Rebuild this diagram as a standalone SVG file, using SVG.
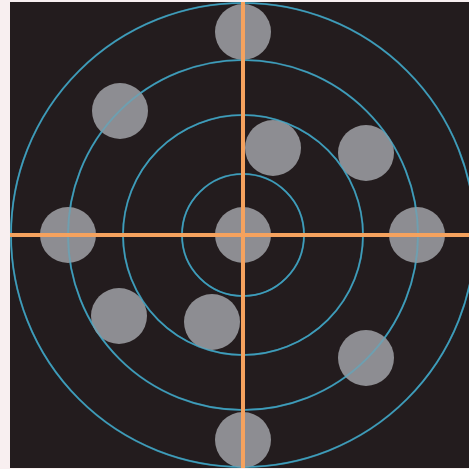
<svg xmlns="http://www.w3.org/2000/svg" width="469" height="469" viewBox="0 0 469 469">
<style>
.ring{fill:none;stroke:#3596b5;stroke-width:1.6}
.ring-over{fill:none;stroke:#4aa6c4;stroke-width:2;stroke-opacity:0.45}
.dot{fill:#999a9e;fill-opacity:0.9}
.axis{stroke:#f5a25e;stroke-width:4}
</style>
<rect x="0" y="0" width="469" height="469" fill="#f8eff0"/>
<rect x="10" y="2" width="459" height="466" fill="#231c1e"/>
<g id="rings">
<circle class="ring" cx="243" cy="235" r="232"/>
<circle class="ring" cx="243" cy="235" r="175"/>
<circle class="ring" cx="243" cy="235" r="120"/>
<circle class="ring" cx="243" cy="235" r="61"/>
</g>
<g id="node-center"><circle class="dot" cx="243" cy="235" r="28"/></g>
<g id="node-top"><circle class="dot" cx="243" cy="32" r="28"/></g>
<g id="node-bottom"><circle class="dot" cx="243" cy="440" r="28"/></g>
<g id="node-left"><circle class="dot" cx="68" cy="235" r="28"/></g>
<g id="node-right"><circle class="dot" cx="417" cy="235" r="28"/></g>
<g id="node-ul"><circle class="dot" cx="120" cy="111" r="28"/></g>
<g id="node-ll"><circle class="dot" cx="119" cy="316" r="28"/></g>
<g id="node-lr"><circle class="dot" cx="366" cy="358" r="28"/></g>
<g id="node-ur"><circle class="dot" cx="366" cy="153" r="28"/></g>
<g id="node-inner-ur"><circle class="dot" cx="273" cy="148" r="28"/></g>
<g id="node-inner-ll"><circle class="dot" cx="212" cy="322" r="28"/></g>
<g id="rings-over">
<circle class="ring-over" cx="243" cy="235" r="232"/>
<circle class="ring-over" cx="243" cy="235" r="175"/>
<circle class="ring-over" cx="243" cy="235" r="120"/>
<circle class="ring-over" cx="243" cy="235" r="61"/>
</g>
<g id="connectors">
<line class="axis" x1="243" y1="2" x2="243" y2="468"/>
<line class="axis" x1="10" y1="235" x2="469" y2="235"/>
</g>
</svg>
